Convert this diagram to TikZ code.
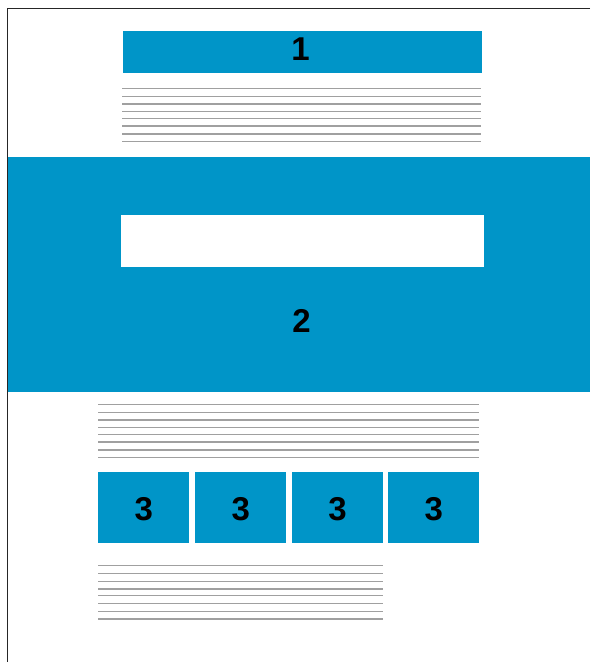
\documentclass[tikz,border=0pt]{standalone}
\usepackage{fontspec}
\setmainfont{Liberation Sans}
\definecolor{blk}{RGB}{0,149,200}
\definecolor{rule}{RGB}{160,160,160}
\begin{document}
\begin{tikzpicture}[x=1pt,y=-1pt,
  box/.style={fill=blk,draw=none,inner sep=0pt,anchor=north west,font=\fontsize{33}{33}\selectfont\bfseries},
  digit/.style={font=\fontsize{33}{33}\selectfont\bfseries,inner sep=0pt},
  txtline/.style={draw=rule,line width=1.1pt}]
\useasboundingbox (0,0) rectangle (590,662);
% frame
\draw[line width=1.2pt,black!85] (590,8.7) -- (7.3,8.7) -- (7.3,662);
% box 1
\node[box,minimum width=359pt,minimum height=41.6pt] (b1) at (122.3,30.7) {};
\node[digit] (t1) at (300.5,49.2) {1};
\foreach \y in {88.7,96.3,104,111.7,118.3,126,134,141.7}
  \draw[txtline] (122,\y) -- (481,\y);
% band 2
\fill[blk] (8,157) rectangle (590,392);
\node[fill=white,inner sep=0pt,anchor=north west,minimum width=362.3pt,minimum height=52.4pt] (w) at (121,214.3) {};
\node[digit] (b2) at (301.5,320.7) {2};
% lines
\foreach \y in {404.7,412.3,420,427.7,434.3,442,450,457.7}
  \draw[txtline] (98,\y) -- (479,\y);
% boxes 3
\node[box,minimum width=91pt,minimum height=70.7pt] (c1) at (98,472) {};
\node[box,minimum width=91pt,minimum height=70.7pt] (c2) at (195,472) {};
\node[box,minimum width=90.7pt,minimum height=70.7pt] (c3) at (292,472) {};
\node[box,minimum width=91pt,minimum height=70.7pt] (c4) at (388,472) {};
\foreach \n in {1,2,3,4}
  \node[digit] at ([yshift=-1.2pt]c\n.center) {3};
% lines
\foreach \y in {565.7,573.7,581.7,589,595.7,603.3,611.3,619}
  \draw[txtline] (98,\y) -- (383,\y);
\end{tikzpicture}
\end{document}
